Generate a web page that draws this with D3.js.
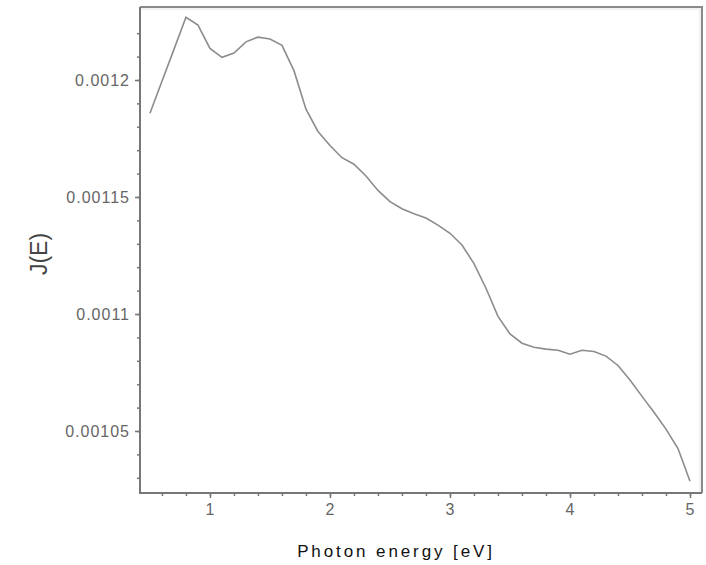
<!DOCTYPE html>
<html>
<head>
<meta charset="utf-8">
<script src="https://cdn.jsdelivr.net/npm/d3@7"></script>
<style>
  body { margin: 0; background: #fff; }
  svg { display: block; }
</style>
</head>
<body>
<div id="chart"></div>
<script>
// photon energy [eV] and J(E)
const energy = [0.5, 0.6, 0.7, 0.8, 0.9, 1.0, 1.1, 1.2, 1.3, 1.4, 1.5, 1.6, 1.7, 1.8, 1.9,
  2.0, 2.1, 2.2, 2.3, 2.4, 2.5, 2.6, 2.7, 2.8, 2.9, 3.0, 3.1, 3.2, 3.3, 3.4, 3.5,
  3.6, 3.7, 3.8, 3.9, 4.0, 4.1, 4.2, 4.3, 4.4, 4.5, 4.6, 4.7, 4.8, 4.9, 5.0];
const jE = [1.1858, 1.1995, 1.2131, 1.2268, 1.2235, 1.2135, 1.2097, 1.2115, 1.2163, 1.2183,
  1.2175, 1.2148, 1.2040, 1.1875, 1.1780, 1.1720, 1.1668, 1.1640, 1.1590, 1.1528,
  1.1480, 1.1450, 1.1428, 1.1410, 1.1380, 1.1345, 1.1295, 1.1215, 1.1110, 1.0990,
  1.0915, 1.0875, 1.0858, 1.0850, 1.0845, 1.0828, 1.0845, 1.0840, 1.0820, 1.0780,
  1.0718, 1.0648, 1.0580, 1.0508, 1.0425, 1.0285].map(v => v * 1e-3);

const xTicks = [1, 2, 3, 4, 5];
const yTicks = [0.00105, 0.0011, 0.00115, 0.0012];
const yTickLabels = ["0.00105", "0.0011", "0.00115", "0.0012"];

const width = 706, height = 565;
const mLeft = 140, mRight = 702, mTop = 7, mBottom = 493;

const svg = d3.select("#chart").append("svg")
    .attr("width", width)
    .attr("height", height);

const x = d3.scaleLinear().domain([0.417, 5.1]).range([mLeft, mRight]);
const y = d3.scaleLinear().domain([0.0010235, 0.0012312]).range([mBottom, mTop]);

// frame top / right
svg.append("path")
    .attr("d", `M${mLeft},${mTop}H${mRight}V${mBottom}`)
    .attr("fill", "none")
    .attr("stroke", "#8a8a8a")
    .attr("stroke-width", 2);
svg.append("path")
    .attr("d", `M${mLeft},${mTop + 2}H${mRight - 2}V${mBottom}`)
    .attr("fill", "none")
    .attr("stroke", "#e4e4e4")
    .attr("stroke-width", 1);

// minor ticks
const xMinor = d3.range(0.6, 5.01, 0.2);
const yMinor = d3.range(0.00103, 0.00123, 0.00001);

const ax = svg.append("g").attr("transform", `translate(0,${mBottom})`)
    .call(d3.axisBottom(x).tickValues(xMinor).tickSize(3).tickFormat(""));
const ax2 = svg.append("g").attr("transform", `translate(0,${mBottom})`)
    .call(d3.axisBottom(x).tickValues(xTicks).tickSize(5).tickPadding(6)
      .tickFormat(d3.format("d")));
const ay = svg.append("g").attr("transform", `translate(${mLeft},0)`)
    .call(d3.axisLeft(y).tickValues(yMinor).tickSize(3).tickFormat(""));
const ay2 = svg.append("g").attr("transform", `translate(${mLeft},0)`)
    .call(d3.axisLeft(y).tickValues(yTicks).tickSize(5).tickPadding(5)
      .tickFormat((d, i) => yTickLabels[i]));

[ax, ax2, ay, ay2].forEach(g => {
  g.select(".domain").remove();
  g.selectAll(".tick line").attr("stroke", "#777").attr("stroke-width", 1.5);
  g.selectAll(".tick text")
    .attr("fill", "#666")
    .attr("font-family", "Liberation Sans, Arial, sans-serif")
    .attr("font-size", 16)
    .attr("letter-spacing", "1px");
});

// axis lines
svg.append("path")
    .attr("d", `M${mLeft},${mTop}V${mBottom}H${mRight}`)
    .attr("fill", "none")
    .attr("stroke", "#777")
    .attr("stroke-width", 2);

// curve
const line = d3.line()
    .x((d, i) => x(energy[i]))
    .y(d => y(d));

svg.append("path")
    .datum(jE)
    .attr("d", line)
    .attr("fill", "none")
    .attr("stroke", "#8c8c8c")
    .attr("stroke-width", 1.6);

// axis titles
svg.append("text")
    .attr("x", 396)
    .attr("y", 557)
    .attr("text-anchor", "middle")
    .attr("font-family", "Liberation Sans, Arial, sans-serif")
    .attr("font-size", 17)
    .attr("letter-spacing", "2.9px")
    .attr("fill", "#111")
    .text("Photon energy [eV]");

svg.append("text")
    .attr("transform", "translate(47,254) rotate(-90)")
    .attr("text-anchor", "middle")
    .attr("font-family", "Liberation Sans, Arial, sans-serif")
    .attr("font-size", 23)
    .attr("fill", "#444")
    .text("J(E)");
</script>
</body>
</html>
